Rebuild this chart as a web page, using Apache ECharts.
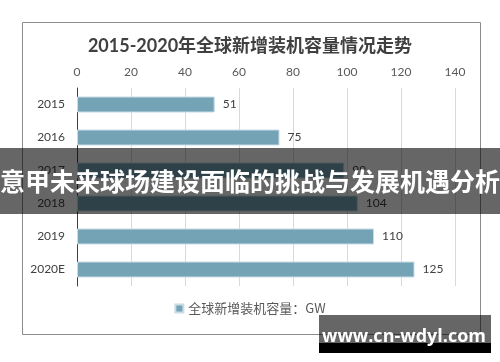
<!DOCTYPE html>
<html><head><meta charset="utf-8">
<script src="https://cdn.jsdelivr.net/npm/echarts@6/dist/echarts.min.js"></script>
<style>html,body{margin:0;padding:0;background:#fff}#c{width:500px;height:362px}</style>
</head><body><div id="c"></div>
<script>
const categories = ['2015', '2016', '2017', '2018', '2019', '2020E'];
const values = [51, 75, 99, 104, 110, 125];
const xTicks = [0, 20, 40, 60, 80, 100, 120, 140];
const titleText = '2015-2020年全球新增装机容量情况走势';
const seriesName = '全球新增装机容量：GW';
const bannerText = '意甲未来球场建设面临的挑战与发展机遇分析';
const watermarkText = 'www.cn-wdyl.com';

const FONT = 'Lato, "Noto Sans CJK SC", sans-serif';
const chart = echarts.init(document.getElementById('c'), null, {renderer: 'canvas'});
chart.setOption({
  animation: false,
  backgroundColor: '#fff',
  textStyle: {fontFamily: FONT},
  title: {
    text: titleText, left: 'center', top: 32,
    textStyle: {fontSize: 18, fontWeight: 'bold', color: '#404040', fontFamily: FONT}
  },
  legend: {
    bottom: 42, left: 'center', itemWidth: 8, itemHeight: 8, itemGap: 4,
    icon: 'rect',
    textStyle: {fontSize: 13, color: '#595959', fontFamily: '"Noto Sans CJK SC", sans-serif'},
    data: [seriesName]
  },
  grid: {left: 77, right: 45, top: 88, height: 198, containLabel: false},
  xAxis: {
    type: 'value', position: 'top', min: xTicks[0], max: xTicks[xTicks.length - 1], interval: 20,
    axisLine: {show: false}, axisTick: {show: false},
    axisLabel: {fontSize: 12, color: '#595959', margin: 10, fontFamily: FONT},
    splitLine: {lineStyle: {color: '#d9d9d9', width: 1}}
  },
  yAxis: {
    type: 'category', inverse: true, data: categories,
    axisLine: {show: true, lineStyle: {color: '#404040', width: 1}},
    axisTick: {show: false},
    axisLabel: {fontSize: 12, color: '#404040', margin: 12, fontFamily: FONT}
  },
  series: [{
    name: seriesName, type: 'bar', data: values, barWidth: 16,
    itemStyle: {color: '#74a3b6', borderColor: '#c9dde5', borderWidth: 1},
    label: {show: true, position: 'right', distance: 8, fontSize: 12, color: '#404040', fontFamily: FONT}
  }],
  graphic: [
    {type: 'rect', shape: {x: 22.5, y: 22.5, width: 458, height: 312}, style: {fill: 'none', stroke: '#8c8c8c', lineWidth: 1}, z: 100},
    {type: 'rect', shape: {x: 0, y: 148, width: 500, height: 66}, style: {fill: 'rgba(0,0,0,0.6)'}, z: 200},
    {type: 'text', x: 250, y: 181, style: {text: bannerText, fill: '#fff', fontSize: 25, fontWeight: 'bold', fontFamily: '"Noto Sans CJK SC", sans-serif', align: 'center', verticalAlign: 'middle'}, z: 201},
    {type: 'rect', shape: {x: 319, y: 315, width: 172, height: 28}, style: {fill: 'rgba(0,0,0,0.6)'}, z: 200},
    {type: 'rect', shape: {x: 319, y: 343, width: 172, height: 10}, style: {fill: '#000'}, z: 200},
    {type: 'text', x: 404, y: 337, style: {text: watermarkText, fill: '#fff', fontSize: 18, fontWeight: 'bold', fontFamily: '"Open Sans", "Noto Sans", sans-serif', align: 'center', verticalAlign: 'middle'}, z: 201}
  ]
});
</script></body></html>
